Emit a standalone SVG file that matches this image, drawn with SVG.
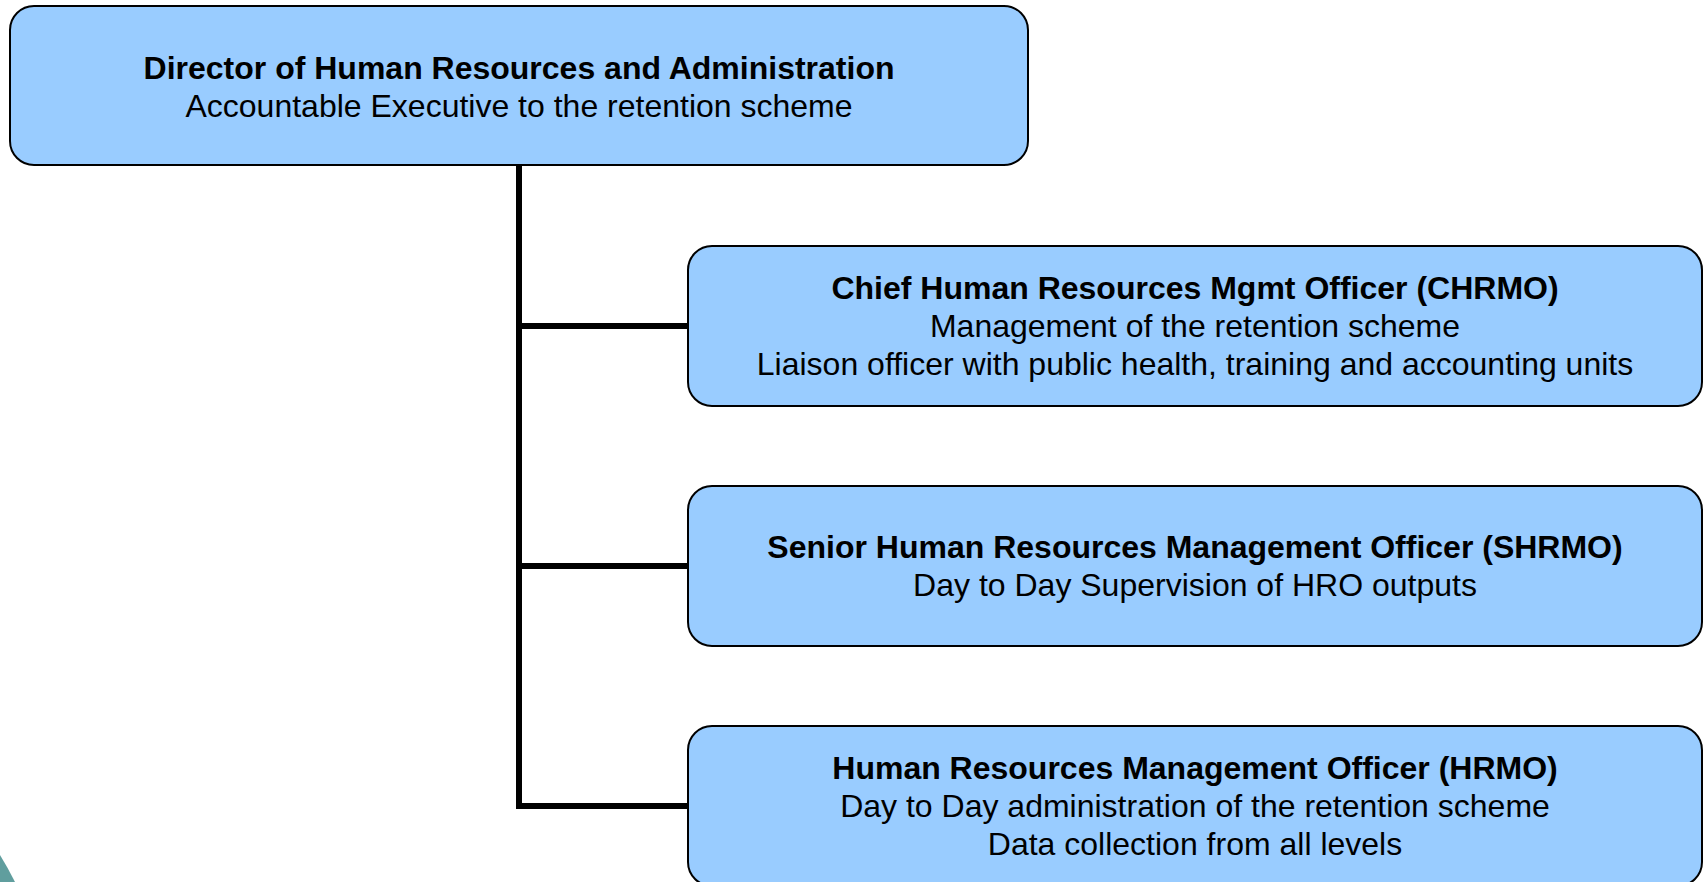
<svg xmlns="http://www.w3.org/2000/svg" width="1703" height="882" viewBox="0 0 1703 882">
  <style>
    .box { fill: #99ccff; stroke: #000000; stroke-width: 2; }
    .t { font-family: "Liberation Sans", Arial, sans-serif; font-size: 32px; fill: #000000; text-anchor: middle; }
    .b { font-weight: bold; }
    .link { fill: none; stroke: #000000; stroke-width: 6; stroke-linejoin: miter; stroke-linecap: butt; }
  </style>
  <rect width="1703" height="882" fill="#ffffff"/>

  <!-- corner decoration -->
  <path d="M0 855 Q8 868 15 882 L0 882 Z" fill="#609e9e"/>

  <!-- connectors -->
  <g id="connectors">
    <path class="link" d="M519 165 V806 H689"/>
    <path class="link" d="M519 326 H689"/>
    <path class="link" d="M519 566 H689"/>
  </g>

  <g id="director">
    <rect class="box" x="10" y="6" width="1018" height="159" rx="24" ry="24"/>
    <text class="t b" x="519" y="79">Director of Human Resources and Administration</text>
    <text class="t" x="519" y="117">Accountable Executive to the retention scheme</text>
  </g>

  <g id="chrmo">
    <rect class="box" x="688" y="246" width="1014" height="160" rx="24" ry="24"/>
    <text class="t b" x="1195" y="299">Chief Human Resources Mgmt Officer (CHRMO)</text>
    <text class="t" x="1195" y="337">Management of the retention scheme</text>
    <text class="t" x="1195" y="375">Liaison officer with public health, training and accounting units</text>
  </g>

  <g id="shrmo">
    <rect class="box" x="688" y="486" width="1014" height="160" rx="24" ry="24"/>
    <text class="t b" x="1195" y="558">Senior Human Resources Management Officer (SHRMO)</text>
    <text class="t" x="1195" y="596">Day to Day Supervision of HRO outputs</text>
  </g>

  <g id="hrmo">
    <rect class="box" x="688" y="726" width="1014" height="160" rx="24" ry="24"/>
    <text class="t b" x="1195" y="779">Human Resources Management Officer (HRMO)</text>
    <text class="t" x="1195" y="817">Day to Day administration of the retention scheme</text>
    <text class="t" x="1195" y="855">Data collection from all levels</text>
  </g>
</svg>
